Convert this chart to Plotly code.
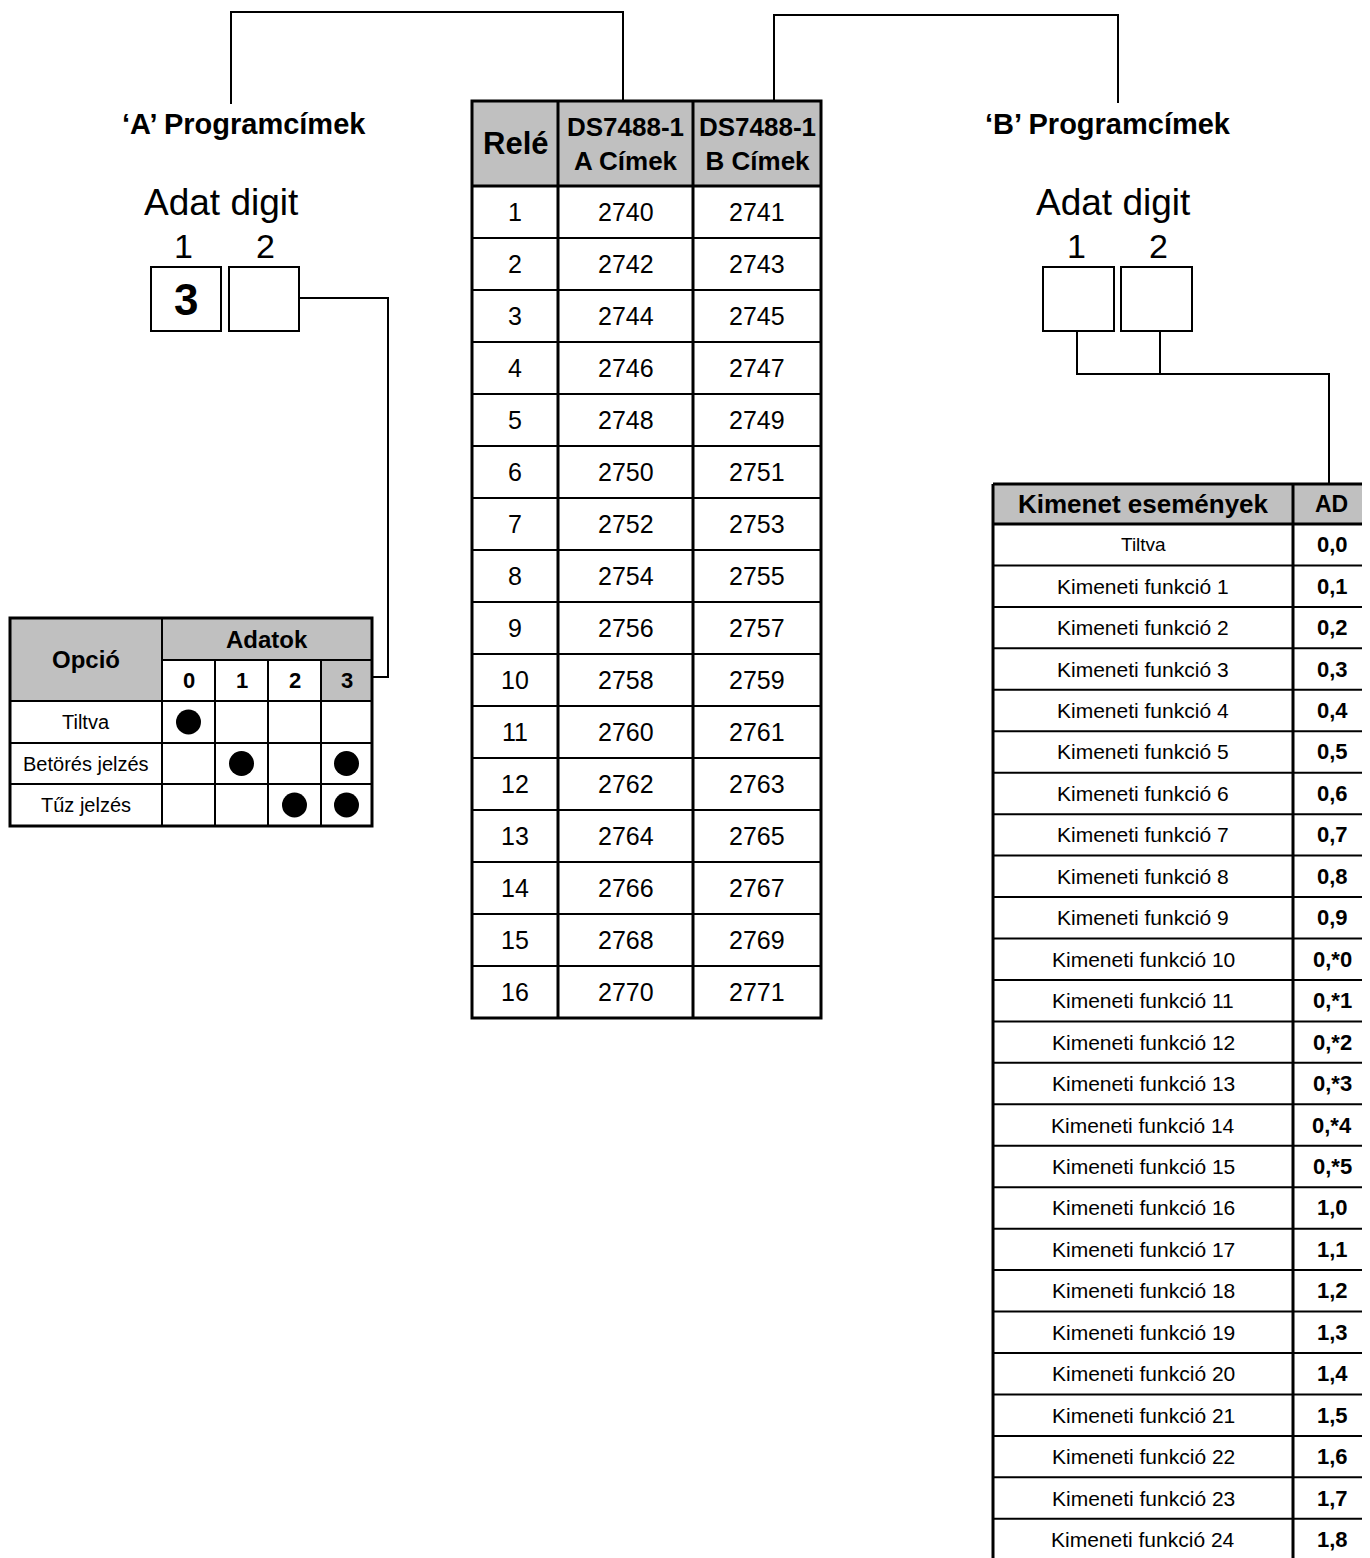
import plotly.graph_objects as go

# ---------------- data ----------------
relay_numbers = [str(i) for i in range(1, 17)]
a_addresses = ["2740", "2742", "2744", "2746", "2748", "2750", "2752", "2754",
               "2756", "2758", "2760", "2762", "2764", "2766", "2768", "2770"]
b_addresses = ["2741", "2743", "2745", "2747", "2749", "2751", "2753", "2755",
               "2757", "2759", "2761", "2763", "2765", "2767", "2769", "2771"]
mid_headers = ["Relé", "DS7488-1<br>A Címek", "DS7488-1<br>B Címek"]

option_labels = ["Tiltva", "Betörés jelzés", "Tűz jelzés"]
data_digits = ["0", "1", "2", "3"]
# dot matrix: rows = options, columns = data digit values
option_dots = [
    [1, 0, 0, 0],
    [0, 1, 0, 1],
    [0, 0, 1, 1],
]
a_digit_values = ["3", ""]
b_digit_values = ["", ""]

output_events = ["Tiltva"] + ["Kimeneti funkció %d" % i for i in range(1, 25)]
ad_codes = ["0,0", "0,1", "0,2", "0,3", "0,4", "0,5", "0,6", "0,7", "0,8", "0,9",
            "0,*0", "0,*1", "0,*2", "0,*3", "0,*4", "0,*5",
            "1,0", "1,1", "1,2", "1,3", "1,4", "1,5", "1,6", "1,7", "1,8"]

# ---------------- style / geometry ----------------
W, H = 1370, 1558
OFF = 8  # page body margin
FONT = "Liberation Sans, Arial, sans-serif"
GRAY = "#c0c0c0"
BLACK = "#000000"

fig = go.Figure()
shapes = []
annotations = []


def line(x0, y0, x1, y1, w=2):
    shapes.append(dict(type="line", x0=x0, y0=y0, x1=x1, y1=y1,
                       xref="x", yref="y", line=dict(color=BLACK, width=w)))


def rect_fill(x0, y0, x1, y1, color):
    shapes.append(dict(type="rect", x0=x0, y0=y0, x1=x1, y1=y1, xref="x", yref="y",
                       fillcolor=color, line=dict(width=0), layer="below"))


def rect_box(x0, y0, x1, y1, w=2):
    shapes.append(dict(type="rect", x0=x0, y0=y0, x1=x1, y1=y1, xref="x", yref="y",
                       fillcolor="rgba(0,0,0,0)", line=dict(color=BLACK, width=w)))


def text(x, y, s, size, bold=False, xanchor="center"):
    annotations.append(dict(x=x, y=y, xref="x", yref="y", text=("<b>%s</b>" % s) if bold else s,
                            showarrow=False, xanchor=xanchor, yanchor="middle",
                            font=dict(family=FONT, size=size, color=BLACK)))


# ---------------- connectors (top) ----------------
line(231, 12, 231, 104)
line(230, 12, 624, 12)
line(623, 12, 623, 101)
line(774, 15, 774, 101)
line(773, 15, 1119, 15)
line(1118, 15, 1118, 103)

# ---------------- titles ----------------
text(244, 124, "‘A’ Programcímek", 29, bold=True)
text(1108, 124, "‘B’ Programcímek", 29, bold=True)
text(221, 202, "Adat digit", 37)
text(1113, 202, "Adat digit", 37)

# ---------------- A digit boxes ----------------
a_box_x = [(151, 221), (229, 299)]
a_num_x = [183, 265]
for i, (x0, x1) in enumerate(a_box_x):
    rect_box(x0, 267, x1, 331, 2)
    text(a_num_x[i], 246, str(i + 1), 34)
    if a_digit_values[i]:
        text((x0 + x1) / 2, 299, a_digit_values[i], 44, bold=True)

# connector to left table
line(300, 298, 389, 298)
line(388, 297, 388, 677)
line(372, 677, 389, 677)

# ---------------- B digit boxes ----------------
b_box_x = [(1043, 1114), (1121, 1192)]
b_num_x = [1076, 1158]
for i, (x0, x1) in enumerate(b_box_x):
    rect_box(x0, 267, x1, 331, 2)
    text(b_num_x[i], 246, str(i + 1), 34)
    if b_digit_values[i]:
        text((x0 + x1) / 2, 299, b_digit_values[i], 44, bold=True)
line(1077, 331, 1077, 375)
line(1160, 331, 1160, 375)
line(1076, 374, 1330, 374)
line(1329, 373, 1329, 484)

# ---------------- left table (Opció / Adatok) ----------------
lx = [10, 162, 215, 268, 321, 372]
ly = [618, 660, 701, 743, 784, 826]
rect_fill(lx[0], ly[0], lx[1], ly[2], GRAY)
rect_fill(lx[1], ly[0], lx[5], ly[1], GRAY)
rect_fill(lx[4], ly[1], lx[5], ly[2], GRAY)
line(lx[1], ly[1], lx[5], ly[1], 2)
for yy in ly[2:5]:
    line(lx[0], yy, lx[5], yy, 2)
line(lx[1], ly[0], lx[1], ly[5], 2)
for xx in lx[2:5]:
    line(xx, ly[1], xx, ly[5], 2)
rect_box(lx[0], ly[0], lx[5], ly[5], 3)
text((lx[0] + lx[1]) / 2, (ly[0] + ly[2]) / 2, "Opció", 24, bold=True)
text((lx[1] + lx[5]) / 2, (ly[0] + ly[1]) / 2, "Adatok", 24, bold=True)
for j, d in enumerate(data_digits):
    text((lx[j + 1] + lx[j + 2]) / 2, (ly[1] + ly[2]) / 2, d, 22, bold=True)
dot_x, dot_y = [], []
for i, lab in enumerate(option_labels):
    cy = (ly[i + 2] + ly[i + 3]) / 2
    text((lx[0] + lx[1]) / 2, cy, lab, 20)
    for j, v in enumerate(option_dots[i]):
        if v:
            dot_x.append((lx[j + 1] + lx[j + 2]) / 2)
            dot_y.append(cy)
fig.add_trace(go.Scatter(x=dot_x, y=dot_y, mode="markers",
                         marker=dict(size=25, color=BLACK, line=dict(width=0)),
                         hoverinfo="skip", showlegend=False))

# ---------------- middle table ----------------
mx = [472, 558, 693, 821]
m_top, m_head = 101, 186
m_row = 52
m_bottom = m_head + m_row * len(relay_numbers)
rect_fill(mx[0], m_top, mx[3], m_head, GRAY)
for k in range(1, len(relay_numbers)):
    yy = m_head + k * m_row
    line(mx[0], yy, mx[3], yy, 2)
line(mx[0], m_head, mx[3], m_head, 3)
line(mx[1], m_top, mx[1], m_bottom, 3)
line(mx[2], m_top, mx[2], m_bottom, 3)
rect_box(mx[0], m_top, mx[3], m_bottom, 3)
text((mx[0] + mx[1]) / 2, (m_top + m_head) / 2, mid_headers[0], 31, bold=True)
text((mx[1] + mx[2]) / 2, (m_top + m_head) / 2, mid_headers[1], 26, bold=True)
text((mx[2] + mx[3]) / 2, (m_top + m_head) / 2, mid_headers[2], 26, bold=True)
for k in range(len(relay_numbers)):
    cy = m_head + (k + 0.5) * m_row
    text((mx[0] + mx[1]) / 2, cy, relay_numbers[k], 25)
    text((mx[1] + mx[2]) / 2, cy, a_addresses[k], 25)
    text((mx[2] + mx[3]) / 2, cy, b_addresses[k], 25)

# ---------------- right table ----------------
rx = [993, 1293, 1380]
r_top, r_head = 484, 524
r_row = 41.45
r_bottom = r_head + r_row * len(output_events) + 20
rect_fill(rx[0], r_top, rx[2], r_head, GRAY)
for k in range(1, len(output_events)):
    yy = r_head + k * r_row
    line(rx[0], yy, rx[2], yy, 2)
line(rx[0], r_head, rx[2], r_head, 3)
line(rx[0], r_top, rx[2], r_top, 3)
line(rx[0], r_top, rx[0], r_bottom, 3)
line(rx[1], r_top, rx[1], r_bottom, 3)
text((rx[0] + rx[1]) / 2, (r_top + r_head) / 2, "Kimenet események", 26, bold=True)
text(1331, (r_top + r_head) / 2, "AD", 23, bold=True)
for k in range(len(output_events)):
    cy = r_head + (k + 0.5) * r_row
    text((rx[0] + rx[1]) / 2, cy, output_events[k], 21 if k else 19)
    text(1332, cy, ad_codes[k], 22, bold=True)

fig.update_layout(
    width=W, height=H,
    margin=dict(l=0, r=0, t=0, b=0),
    paper_bgcolor="white", plot_bgcolor="white",
    xaxis=dict(range=[OFF, W + OFF], visible=False, fixedrange=True),
    yaxis=dict(range=[H + OFF, OFF], visible=False, fixedrange=True),
    shapes=shapes, annotations=annotations,
    showlegend=False,
)
fig.write_html("out.html", config={"displayModeBar": False})
